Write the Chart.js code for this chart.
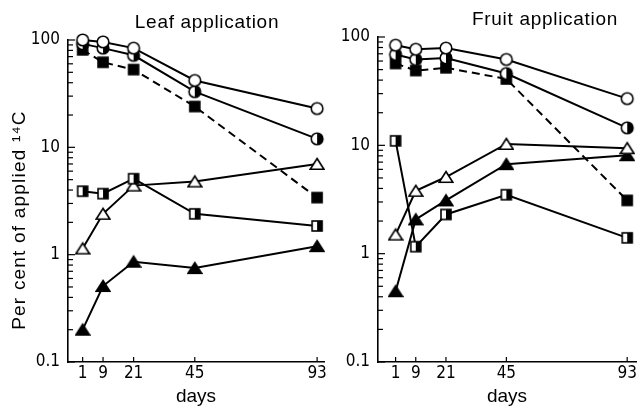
<!DOCTYPE html>
<html>
<head>
<meta charset="utf-8">
<script src="https://cdn.jsdelivr.net/npm/chart.js@4.4.0/dist/chart.umd.min.js"></script>
<style>
  body { margin: 0; background: #fff; }
  canvas { position: absolute; top: 0; }
  #leafChart { left: 0; }
  #fruitChart { left: 330px; }
</style>
</head>
<body>
<canvas id="leafChart" width="332" height="408"></canvas>
<canvas id="fruitChart" width="314" height="408"></canvas>
<script>
// sampling days (x axis)
const days = [1, 9, 21, 45, 93];

// y axis (log) tick positions and the labelled decades
const yTickValues = [0.1, 0.2, 0.3, 0.4, 0.5, 0.6, 0.7, 0.8, 0.9,
                     1, 2, 3, 4, 5, 6, 7, 8, 9,
                     10, 20, 30, 40, 50, 60, 70, 80, 90, 100];
const yMajor = [0.1, 1, 10, 100];
const yLabels = ['0.1', '1', '10', '100'];

// Leaf application, per cent of applied 14C
const leafOpenCircle   = [100, 96, 84, 42, 23];
const leafHalfCircle   = [92, 84, 72, 33, 12];
const leafFilledSquare = [81, 62, 53, 24, 3.4];
const leafHalfSquare   = [3.9, 3.7, 5.1, 2.4, 1.85];
const leafOpenTriangle = [1.14, 2.4, 4.4, 4.8, 7.0];
const leafFilledTriangle = [0.2, 0.51, 0.86, 0.75, 1.2];

// Fruit application
const fruitOpenCircle   = [84, 77, 79, 62, 27];
const fruitHalfCircle   = [69, 62, 64, 46, 14.5];
const fruitFilledSquare = [57, 49, 52, 41, 3.1];
const fruitHalfSquare   = [11, 1.16, 2.3, 3.5, 1.4];
const fruitOpenTriangle = [1.5, 3.8, 5.1, 10.3, 9.4];
const fruitFilledTriangle = [0.45, 2.07, 3.1, 6.7, 8.1];

const tickFont = { family: "'Liberation Sans Narrow', 'DejaVu Sans Condensed', sans-serif", size: 17 };
const textFont = "'Liberation Sans', Arial, sans-serif";

// marker glyphs drawn once into small canvases
function makeMarker(kind) {
    const c = document.createElement('canvas');
    c.width = 16; c.height = 16;
    const g = c.getContext('2d');
    g.lineWidth = 1.6;
    g.strokeStyle = '#000';
    g.fillStyle = '#fff';
    if (kind === 'circle' || kind === 'halfCircle') {
        g.beginPath(); g.arc(8, 8, 5.8, 0, Math.PI * 2); g.fill();
        if (kind === 'halfCircle') {
            g.fillStyle = '#000';
            g.beginPath(); g.arc(8, 8, 5.8, -Math.PI / 2, Math.PI / 2); g.fill();
        }
        g.beginPath(); g.arc(8, 8, 5.8, 0, Math.PI * 2); g.stroke();
    } else if (kind === 'square' || kind === 'halfSquare') {
        g.fillStyle = kind === 'square' ? '#000' : '#fff';
        g.fillRect(3, 3, 10, 10);
        if (kind === 'halfSquare') {
            g.fillStyle = '#000';
            g.fillRect(8, 3, 5, 10);
        }
        g.strokeRect(3, 3, 10, 10);
    } else {
        g.fillStyle = kind === 'triangle' ? '#fff' : '#000';
        g.beginPath();
        g.moveTo(8, 2.5); g.lineTo(14.8, 13.2); g.lineTo(1.2, 13.2); g.closePath();
        g.fill(); g.stroke();
    }
    return c;
}

const markers = {
    circle: makeMarker('circle'),
    halfCircle: makeMarker('halfCircle'),
    square: makeMarker('square'),
    halfSquare: makeMarker('halfSquare'),
    triangle: makeMarker('triangle'),
    filledTriangle: makeMarker('filledTriangle')
};

function series(values, marker, dashed) {
    return {
        data: values.map((v, i) => ({ x: days[i], y: v })),
        borderColor: '#000',
        borderWidth: 2,
        borderDash: dashed ? [8, 5] : [],
        pointStyle: markers[marker],
        pointRadius: 6,
        tension: 0,
        clip: false
    };
}

// inside tick marks, panel title and rotated y label
const panelDecor = {
    id: 'panelDecor',
    afterDraw(chart, args, opts) {
        const { ctx, chartArea, scales } = chart;
        ctx.save();
        ctx.strokeStyle = '#000';
        ctx.lineWidth = 1.2;
        scales.y.ticks.forEach(t => {
            const y = scales.y.getPixelForValue(t.value);
            const len = yMajor.includes(t.value) ? 7 : 5;
            ctx.beginPath();
            ctx.moveTo(chartArea.left, y);
            ctx.lineTo(chartArea.left + len, y);
            ctx.stroke();
        });
        scales.x.ticks.forEach(t => {
            const x = scales.x.getPixelForValue(t.value);
            ctx.beginPath();
            ctx.moveTo(x, chartArea.bottom);
            ctx.lineTo(x, chartArea.bottom - 5);
            ctx.stroke();
        });
        ctx.fillStyle = '#000';
        ctx.font = '19px ' + textFont;
        ctx.letterSpacing = '0.7px';
        ctx.textAlign = 'center';
        ctx.textBaseline = 'alphabetic';
        ctx.fillText(opts.title, opts.titleX, opts.titleY);
        if (opts.yLabel) {
            ctx.letterSpacing = '1.2px';
            ctx.translate(opts.yLabelX, opts.yLabelY);
            ctx.rotate(-Math.PI / 2);
            ctx.fillText(opts.yLabel, 0, 0);
        }
        ctx.restore();
    }
};

function makeChart(id, datasets, cfg) {
    return new Chart(document.getElementById(id).getContext('2d'), {
        type: 'line',
        data: { datasets: datasets },
        options: {
            responsive: false,
            animation: false,
            layout: { padding: { top: cfg.top, right: 2, left: 0, bottom: 0 } },
            plugins: {
                legend: { display: false },
                tooltip: { enabled: false },
                panelDecor: cfg.decor
            },
            scales: {
                x: {
                    type: 'linear',
                    min: cfg.xMin,
                    max: cfg.xMax,
                    afterBuildTicks: s => { s.ticks = days.map(v => ({ value: v })); },
                    afterFit: s => { s.height = 46; },
                    grid: { display: false, drawTicks: false, tickLength: 0 },
                    border: { display: true, color: '#000', width: 1.6 },
                    ticks: {
                        autoSkip: false, maxRotation: 0, padding: 1,
                        color: '#000', font: tickFont,
                        callback: v => String(v)
                    },
                    title: {
                        display: true, text: 'days', color: '#000',
                        font: { family: textFont, size: 19 },
                        padding: { top: 0, bottom: 0 }
                    }
                },
                y: {
                    type: 'logarithmic',
                    min: 0.1,
                    max: 100,
                    afterBuildTicks: s => { s.ticks = yTickValues.map(v => ({ value: v })); },
                    afterFit: s => { s.width = cfg.yWidth; },
                    grid: { display: false, drawTicks: false, tickLength: 0 },
                    border: { display: true, color: '#000', width: 1.6 },
                    ticks: {
                        autoSkip: false, padding: 8,
                        color: '#000', font: tickFont,
                        callback: v => {
                            const i = yMajor.indexOf(v);
                            return i >= 0 ? yLabels[i] : '';
                        }
                    }
                }
            }
        },
        plugins: [panelDecor]
    });
}

makeChart('leafChart', [
    series(leafOpenCircle, 'circle'),
    series(leafHalfCircle, 'halfCircle'),
    series(leafFilledSquare, 'square', true),
    series(leafHalfSquare, 'halfSquare'),
    series(leafOpenTriangle, 'triangle'),
    series(leafFilledTriangle, 'filledTriangle')
], {
    top: 40, yWidth: 68, xMin: -4.75, xMax: 95.7,
    decor: { title: 'Leaf application', titleX: 207, titleY: 28,
             yLabel: 'Per cent of applied \u00b9\u2074C', yLabelX: 25, yLabelY: 220 }
});

makeChart('fruitChart', [
    series(fruitOpenCircle, 'circle'),
    series(fruitHalfCircle, 'halfCircle'),
    series(fruitFilledSquare, 'square', true),
    series(fruitHalfSquare, 'halfSquare'),
    series(fruitOpenTriangle, 'triangle'),
    series(fruitFilledTriangle, 'filledTriangle')
], {
    top: 37, yWidth: 48, xMin: -6, xMax: 96.5,
    decor: { title: 'Fruit application', titleX: 215, titleY: 25 }
});
</script>
</body>
</html>
